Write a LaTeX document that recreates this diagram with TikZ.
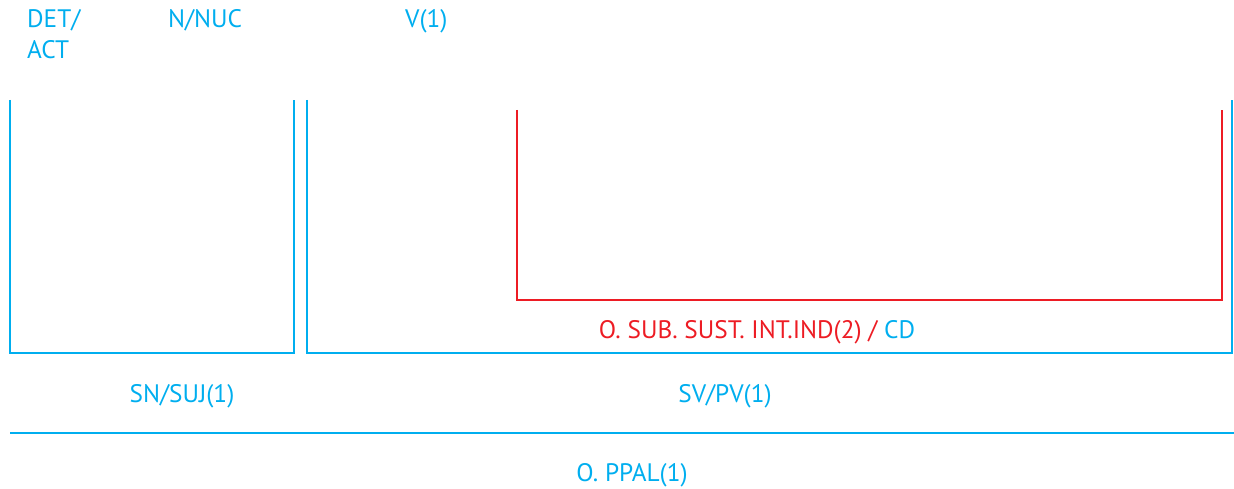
\documentclass[tikz,border=0pt]{standalone}
\usepackage{fontspec}
\setmainfont{PT Sans}
\definecolor{cblue}{RGB}{0,174,239}
\definecolor{cred}{RGB}{237,28,36}
\begin{document}
\begin{tikzpicture}[x=1pt,y=-1pt,
  lbl/.style={inner sep=0pt,font=\fontsize{25.3}{31}\selectfont,text=cblue},
  bl/.style={draw=cblue,line width=2.6pt},
  rd/.style={draw=cred,line width=2.6pt}]
\useasboundingbox (0,0) rectangle (1234,489);
% brackets
\draw[bl] (10,100) -- (10,353) -- (294,353) -- (294,100);
\draw[bl] (307,100) -- (307,353) -- (1232,353) -- (1232,100);
\draw[rd] (517,110) -- (517,300) -- (1222,300) -- (1222,110);
\draw[bl] (10,433) -- (1234,433);
% labels
\node[lbl,anchor=base west] (det) at (27,28) {DET/};
\node[lbl,anchor=base west] (act) at (27,59) {ACT};
\node[lbl,anchor=base west] (nuc) at (168,28) {N/NUC};
\node[lbl,anchor=base west] (v) at (405,28) {V(1)};
\node[lbl,anchor=base] (sub) at (757,338) {\textcolor{cred}{O. SUB. SUST. INT.IND(2) /} CD};
\node[lbl,anchor=base] (sn) at (182,402) {SN/SUJ(1)};
\node[lbl,anchor=base] (sv) at (725,402) {SV/PV(1)};
\node[lbl,anchor=base] (op) at (632,481) {O. PPAL(1)};
\end{tikzpicture}
\end{document}
